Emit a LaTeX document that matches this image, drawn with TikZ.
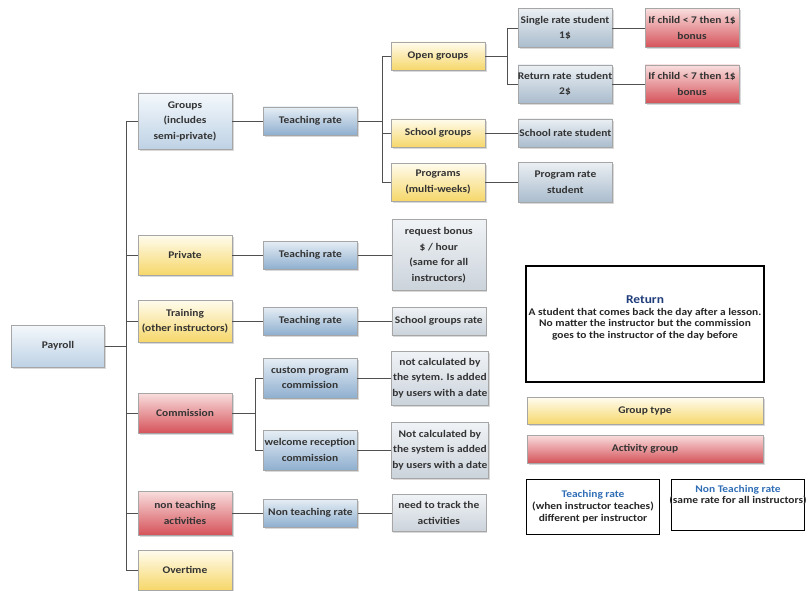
\documentclass[tikz,border=0pt]{standalone}
\usepackage{fontspec}
\setmainfont{Carlito}[FakeStretch=1.12]
\usetikzlibrary{positioning,shadows}

\definecolor{paletop}{HTML}{F4F8FC}
\definecolor{palebot}{HTML}{BED2E5}
\definecolor{ratetop}{HTML}{E6EEF5}
\definecolor{ratebot}{HTML}{8FAFCF}
\definecolor{studtop}{HTML}{EBF0F4}
\definecolor{studbot}{HTML}{AABCCD}
\definecolor{leaftop}{HTML}{F0F3F6}
\definecolor{leafbot}{HTML}{CBD3DB}
\definecolor{yeltop}{HTML}{FFFCEE}
\definecolor{yelbot}{HTML}{F6D76A}
\definecolor{redtop}{HTML}{F9DEDE}
\definecolor{redbot}{HTML}{D5535A}
\definecolor{linkgray}{HTML}{505050}
\definecolor{titleblue}{HTML}{1F3C7A}
\definecolor{rateblue}{HTML}{2F6DB5}

\begin{document}
\begin{tikzpicture}[x=1pt,y=-1pt,node distance=32pt,
    box/.style={draw=black!35,line width=0.4pt,minimum width=94pt,minimum height=28pt,
      inner xsep=1pt,inner ysep=2pt,align=center,text=black!80,
      font=\fontsize{10.2}{15.5}\selectfont\bfseries,
      drop shadow={opacity=0.3,shadow xshift=1.6pt,shadow yshift=-1.6pt}},
    pale/.style={box,top color=paletop,bottom color=palebot},
    rate/.style={box,top color=ratetop,bottom color=ratebot},
    stud/.style={box,top color=studtop,bottom color=studbot},
    leaf/.style={box,top color=leaftop,bottom color=leafbot},
    yel/.style={box,top color=yeltop,bottom color=yelbot},
    red/.style={box,top color=redtop,bottom color=redbot},
    legbox/.style={draw=black,line width=1.3pt,align=center,inner sep=2pt,
      font=\fontsize{10.2}{11.5}\selectfont\bfseries,text=black!85},
    link/.style={draw=linkgray,line width=0.9pt}]
    \useasboundingbox (0,0) rectangle (808,591);

    \node[pale,minimum width=93pt,minimum height=42pt] (pay) at (58,346) {Payroll};
    \node[pale,minimum height=56pt] (grp) at (185,121) {Groups\\(includes\\semi-private)};
    \node[yel,minimum height=40pt] (prv) at (185,255) {Private};
    \node[yel,minimum height=42pt] (trn) at (185,321) {Training\\(other instructors)};
    \node[red,minimum height=40pt] (com) at (185,413) {Commission};
    \node[red,minimum height=44pt] (nta) at (185,513) {non teaching\\activities};
    \node[yel,minimum height=40pt] (ovt) at (185,570) {Overtime};

    \node[rate] (trg) [right=31pt of grp] {Teaching rate};
    \node[rate] (trp) [right=31pt of prv] {Teaching rate};
    \node[rate] (trt) [right=31pt of trn] {Teaching rate};
    \node[rate,minimum height=40pt] (cpc) at (310,378) {custom program\\commission};
    \node[rate,minimum height=40pt] (wrc) at (310,450) {welcome reception\\commission};
    \node[rate] (ntr) [right=31pt of nta] {Non teaching rate};

    \node[yel] (opn) at (438,56) {Open groups};
    \node[yel] (scg) at (438,133) {School groups};
    \node[yel,minimum height=38pt] (prg) at (438,182) {Programs\\(multi-weeks)};
    \node[leaf,minimum height=71pt] (rqb) [right=34pt of trp] {request bonus\\\$ / hour\\(same for all\\instructors)};
    \node[leaf] (sgr) [right=34pt of trt] {School groups rate};
    \node[leaf,minimum height=54pt] (nc1) [right=34pt of cpc] {not calculated by\\the sytem. Is added\\by users with a date};
    \node[leaf,minimum height=56pt] (nc2) [right=34pt of wrc] {Not calculated by\\the system is added\\by users with a date};
    \node[leaf,minimum height=37pt] (trk) [right=34pt of ntr] {need to track the\\activities};

    \node[stud,minimum height=39pt] (srs) at (565,28) {Single rate student\\1\$};
    \node[stud,inner xsep=-1.5pt,minimum height=38pt] (rrs) at (565,84) {Return rate\,\ student\\2\$};
    \node[stud] (scs) [right=33pt of scg] {School rate student};
    \node[stud,minimum height=40pt] (prs) [right=33pt of prg] {Program rate\\student};
    \node[red,minimum height=39pt] (bn1) at (692,28) {If child < 7 then 1\$\\bonus};
    \node[red,minimum height=38pt] (bn2) at (692,84) {If child < 7 then 1\$\\bonus};

    \foreach \c in {grp,prv,trn,com,nta,ovt}
        \draw[link] (pay.east) -- ++(22,0) |- (\c.west);
    \foreach \c in {opn,scg,prg}
        \draw[link] (trg.east) -- ++(25,0) |- (\c.west);
    \foreach \c in {srs,rrs}
        \draw[link] (opn.east) -- ++(22,0) |- (\c.west);
    \foreach \c in {cpc,wrc}
        \draw[link] (com.east) -- ++(23,0) |- (\c.west);
    \foreach \a/\b in {grp/trg,prv/trp,trn/trt,nta/ntr,trp/rqb,trt/sgr,cpc/nc1,wrc/nc2,ntr/trk,scg/scs,prg/prs,srs/bn1,rrs/bn2}
        \draw[link] (\a) -- (\b);

    \node[legbox,minimum width=238pt,minimum height=116pt] (ret) at (645,324)
        {{\color{titleblue}\fontsize{12}{14}\selectfont Return}\\A student that comes back the day after a lesson.\\No matter the instructor but the commission\\goes to the instructor of the day before\\[2pt]};
    \node[yel,minimum width=236pt,minimum height=27pt] (gty) at (645,411) {Group type};
    \node[red,minimum width=236pt,minimum height=28pt] (acg) at (645,449) {Activity group};
    \node[legbox,minimum width=133pt,minimum height=55pt] (ltr) at (593,507)
        {{\color{rateblue}Teaching rate}\\[0.5pt](when instructor teaches)\\[0.5pt]different per instructor};
    \node[legbox,inner xsep=-2pt,minimum width=131pt,minimum height=51pt] (lnt) at (738,505)
        {{\color{rateblue}Non Teaching rate}\\(same rate for all instructors)\\[10pt]};
\end{tikzpicture}
\end{document}
